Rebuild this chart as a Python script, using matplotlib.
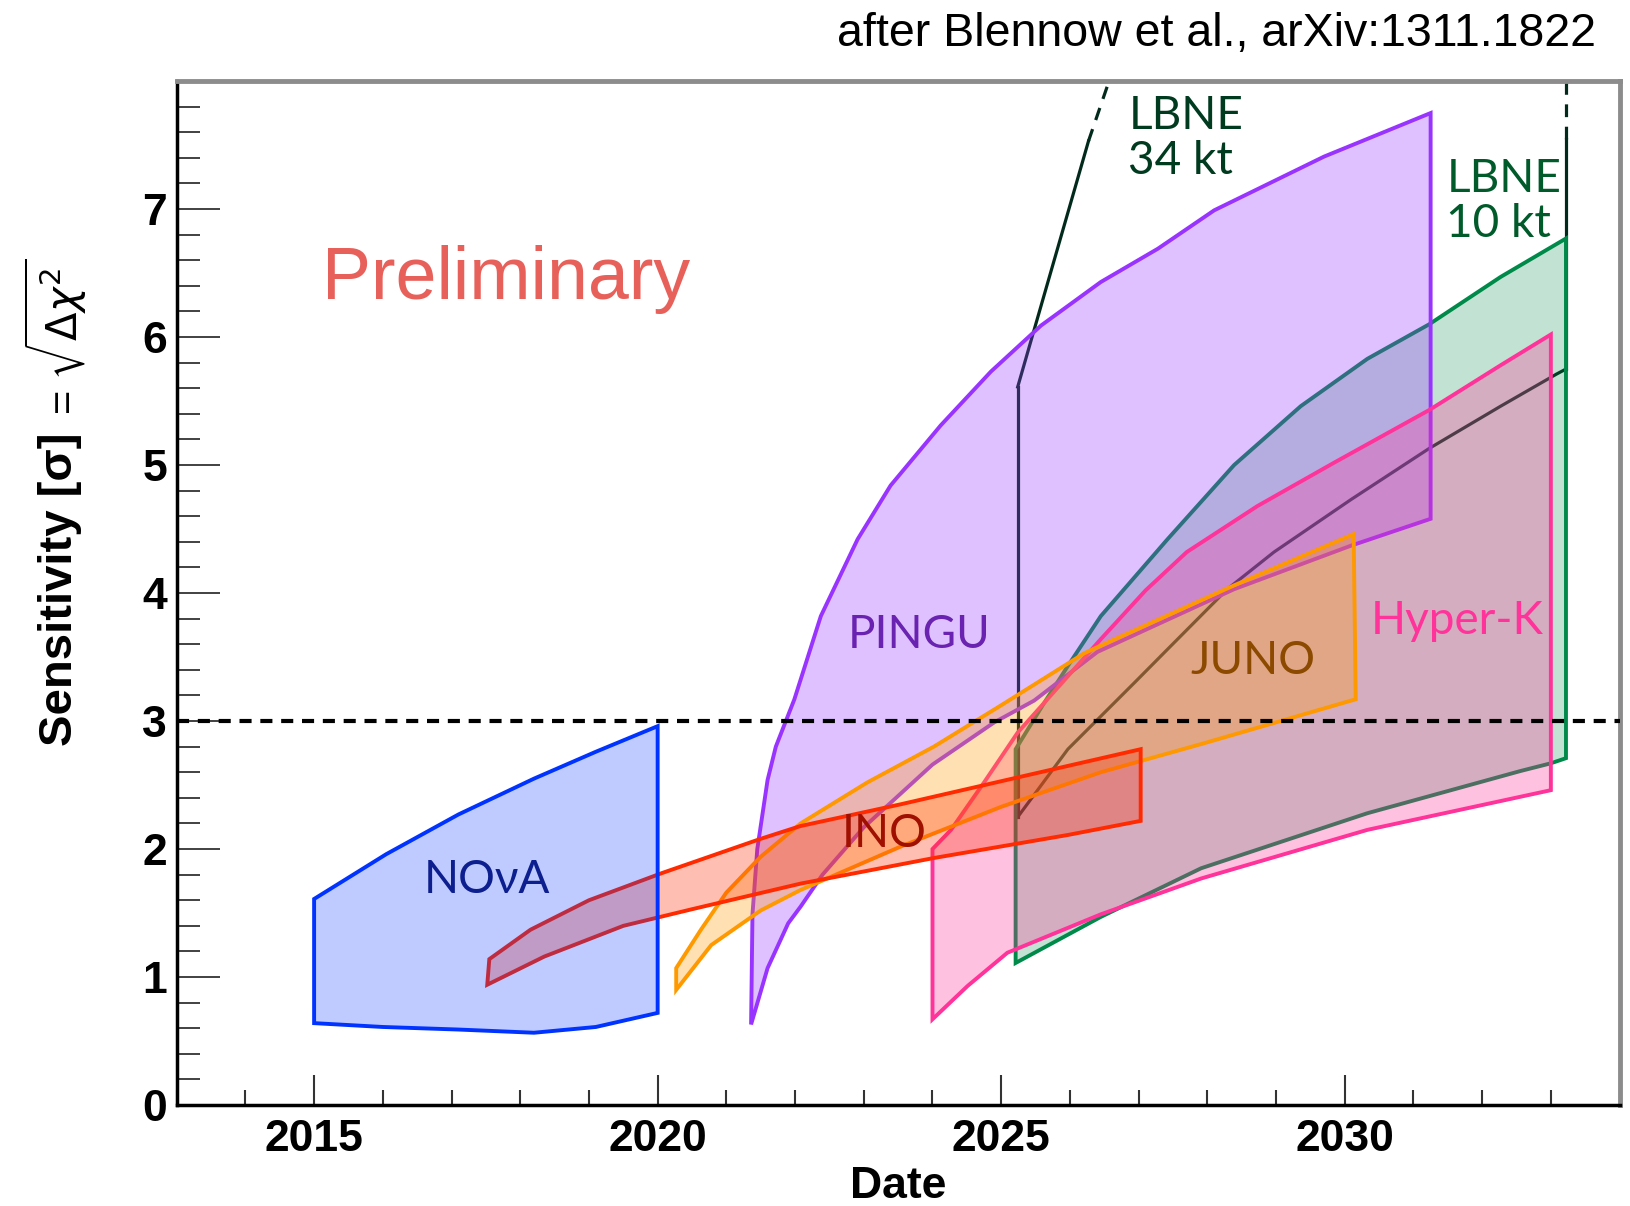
import matplotlib
matplotlib.use("Agg")
import matplotlib.pyplot as plt
from matplotlib.colors import to_rgba

# ---- data ----
nova_x_hi = [2015.0, 2016.05, 2017.1, 2018.2, 2019.1, 2020.0]
nova_hi = [1.61, 1.96, 2.27, 2.55, 2.76, 2.96]
nova_x_lo = [2015.0, 2016.0, 2017.1, 2018.2, 2019.1, 2020.0]
nova_lo = [0.64, 0.61, 0.59, 0.565, 0.61, 0.72]

ino_x_hi = [2017.55, 2018.15, 2019.0, 2020.05, 2021.5, 2022.08, 2023.54, 2025.0, 2027.03]
ino_hi = [1.14, 1.37, 1.60, 1.81, 2.08, 2.18, 2.35, 2.53, 2.78]
ino_x_lo = [2017.52, 2018.35, 2019.5, 2020.5, 2022.08, 2024.02, 2025.97, 2027.03]
ino_lo = [0.94, 1.16, 1.40, 1.53, 1.73, 1.93, 2.11, 2.22]

juno_x_hi = [2020.27, 2020.63, 2021.0, 2021.5, 2022.08, 2023.05, 2024.02, 2024.99, 2026.21,
             2026.45, 2028.39, 2030.13]
juno_hi = [1.07, 1.37, 1.66, 1.94, 2.20, 2.52, 2.80, 3.12, 3.53, 3.59, 4.06, 4.46]
juno_x_lo = [2020.27, 2020.78, 2021.5, 2022.08, 2023.54, 2025.0, 2026.45, 2027.91, 2030.16]
juno_lo = [0.90, 1.25, 1.52, 1.68, 2.02, 2.33, 2.60, 2.82, 3.17]

pingu_x_hi = [2021.36, 2021.38, 2021.45, 2021.6, 2021.72, 2021.99, 2022.375, 2022.91, 2023.39,
              2024.12, 2024.85, 2025.58, 2026.45, 2027.28, 2028.1, 2029.7, 2031.25]
pingu_hi = [0.63, 1.49, 2.00, 2.54, 2.80, 3.17, 3.82, 4.42, 4.84, 5.31, 5.73, 6.09, 6.43,
            6.69, 6.99, 7.41, 7.75]
pingu_x_lo = [2021.36, 2021.6, 2021.9, 2022.08, 2022.4, 2023.0, 2024.0, 2024.9, 2025.48,
              2026.4, 2028.39, 2030.09, 2031.25]
pingu_lo = [0.63, 1.07, 1.42, 1.55, 1.80, 2.17, 2.66, 2.99, 3.16, 3.54, 4.03, 4.37, 4.58]

hyperk_x_hi = [2024.0, 2024.27, 2024.75, 2025.24, 2025.97, 2026.45, 2027.1, 2027.7, 2028.73,
               2029.85, 2031.23, 2032.27, 2033.0]
hyperk_hi = [2.00, 2.15, 2.52, 2.91, 3.35, 3.64, 4.02, 4.32, 4.68, 5.02, 5.43, 5.78, 6.02]
hyperk_x_lo = [2024.0, 2024.51, 2025.09, 2026.45, 2027.91, 2030.33, 2033.0]
hyperk_lo = [0.67, 0.93, 1.19, 1.49, 1.77, 2.15, 2.46]

lbne10_x_hi = [2025.21, 2025.6, 2025.97, 2026.45, 2027.42, 2028.39, 2029.36, 2030.33, 2031.23,
               2032.27, 2033.22]
lbne10_hi = [2.78, 3.12, 3.43, 3.82, 4.42, 5.00, 5.46, 5.83, 6.10, 6.47, 6.77]
lbne10_x_lo = [2025.21, 2026.45, 2027.91, 2030.33, 2032.56, 2033.0, 2033.22]
lbne10_lo = [1.11, 1.47, 1.85, 2.28, 2.61, 2.67, 2.71]

lbne34_x_lo = [2025.24, 2025.97, 2026.94, 2027.42, 2028.29, 2028.97, 2030.09, 2031.23, 2032.27,
               2033.08, 2033.22]
lbne34_lo = [2.25, 2.78, 3.30, 3.56, 4.03, 4.32, 4.73, 5.13, 5.46, 5.71, 5.75]
lbne34_x_hi = [2025.24, 2026.27]
lbne34_hi = [5.61, 7.53]
lbne34_x_hi_dash = [2026.27, 2026.57]
lbne34_hi_dash = [7.53, 8.0]
lbne34_right = [5.75, 7.55]
lbne34_right_dash = [7.55, 8.0]

x_major = [2015, 2020, 2025, 2030]
x_labels = ["2015", "2020", "2025", "2030"]
x_minor = list(range(2013, 2035))
y_major = [0, 1, 2, 3, 4, 5, 6, 7]
y_labels = ["0", "1", "2", "3", "4", "5", "6", "7"]
y_minor = [i * 0.2 for i in range(41)]

# ---- figure ----
fig = plt.figure(figsize=(16.3, 12.06), dpi=100)
ax = fig.add_axes([0.1084, 0.0837, 0.8852, 0.8491])

lw = 2.8


def band(xh, yh, xl, yl, color, alpha, z):
    px = list(xh) + list(reversed(xl))
    py = list(yh) + list(reversed(yl))
    ax.fill(px, py, facecolor=to_rgba(color, alpha), edgecolor=color,
            linewidth=lw, joinstyle="miter", zorder=z)


# LBNE 34 kt (lines only)
dark = "#022a1c"
ax.plot(lbne34_x_lo, lbne34_lo, color=dark, lw=2.3, zorder=1)
ax.plot([lbne34_x_lo[0], lbne34_x_lo[0]], [lbne34_lo[0], lbne34_hi[0]], color=dark, lw=2.3, zorder=1)
ax.plot(lbne34_x_hi, lbne34_hi, color=dark, lw=2.3, zorder=1)
ax.plot(lbne34_x_hi_dash, lbne34_hi_dash, color=dark, lw=2.3, ls=(0, (4, 3)), zorder=1)
ax.plot([lbne34_x_lo[-1]] * 2, lbne34_right, color=dark, lw=2.3, zorder=1)
ax.plot([lbne34_x_lo[-1]] * 2, lbne34_right_dash, color=dark, lw=2.3, ls=(0, (4, 3)), zorder=1)

band(lbne10_x_hi, lbne10_hi, lbne10_x_lo, lbne10_lo, "#008a4a", 0.24, 2)
band(pingu_x_hi, pingu_hi, pingu_x_lo, pingu_lo, "#9933ff", 0.3, 3)
band(hyperk_x_hi, hyperk_hi, hyperk_x_lo, hyperk_lo, "#ff3399", 0.3, 4)
band(juno_x_hi, juno_hi, juno_x_lo, juno_lo, "#ff9900", 0.3, 5)
band(ino_x_hi, ino_hi, ino_x_lo, ino_lo, "#ff2a00", 0.3, 6)
band(nova_x_hi, nova_hi, nova_x_lo, nova_lo, "#0033ff", 0.25, 7)

ax.axhline(3, color="black", lw=3, ls=(0, (2.9, 2.1)), zorder=8)

# labels
lab = dict(family="Lato", fontsize=33, zorder=9)
ax.text(2017.52, 1.76, "NOνA", color="#0d1f8f", ha="center", va="center", **lab)
ax.text(2023.29, 2.12, "INO", color="#a01000", ha="center", va="center", **lab)
ax.text(2023.8, 3.67, "PINGU", color="#6a22b0", ha="center", va="center", **lab)
ax.text(2028.67, 3.47, "JUNO", color="#8b4a00", ha="center", va="center", **lab)
ax.text(2031.64, 3.78, "Hyper-K", color="#ff3399", ha="center", va="center", **lab)
ax.text(2026.85, 7.55, "LBNE\n34 kt", color="#003a1f", ha="left", va="center",
        linespacing=1.1, **lab)
ax.text(2031.48, 7.06, "LBNE\n10 kt", color="#005a2a", ha="left", va="center",
        linespacing=1.1, **lab)
ax.text(2017.8, 6.45, "Preliminary", color="#e8605a", ha="center", va="center",
        family="Liberation Sans", fontsize=53, zorder=9)

# axes styling
ax.set_xlim(2013, 2034)
ax.set_ylim(0, 8)
ax.set_xticks(x_major)
ax.set_xticklabels(x_labels, fontsize=32, fontweight="bold", family="Liberation Sans")
ax.set_xticks(x_minor, minor=True)
ax.set_yticks(y_major)
ax.set_yticklabels(y_labels, fontsize=32, fontweight="bold", family="Liberation Sans")
ax.set_yticks(y_minor, minor=True)
ax.tick_params(axis="x", which="major", direction="in", length=21.6, width=1.5, pad=10, color="#333333")
ax.tick_params(axis="x", which="minor", direction="in", length=10.8, width=1.5, color="#333333")
ax.tick_params(axis="y", which="major", direction="in", length=31, width=1.3, pad=7, color="#333333")
ax.tick_params(axis="y", which="minor", direction="in", length=16.5, width=1.3, color="#333333")
for s in ["left", "bottom"]:
    ax.spines[s].set_linewidth(2.5)
    ax.spines[s].set_color("black")
for s in ["top", "right"]:
    ax.spines[s].set_linewidth(3.5)
    ax.spines[s].set_color("#8c8c8c")

ax.set_xlabel("Date", fontsize=32, fontweight="bold", family="Liberation Sans", labelpad=4)

fig.text(0.037, 0.511, "Sensitivity [σ]", rotation=90, fontsize=34, fontweight="bold",
         family="Liberation Sans", ha="center", va="center")
fig.text(0.034, 0.721, r"= $\sqrt{\Delta\chi^2}$", rotation=90, fontsize=30,
         family="Liberation Sans", ha="center", va="center")

fig.text(0.979, 0.972, "after Blennow et al., arXiv:1311.1822", fontsize=33.5,
         family=["Liberation Sans Narrow", "Liberation Sans"], ha="right", va="center")

fig.savefig("out.png", dpi=100)
